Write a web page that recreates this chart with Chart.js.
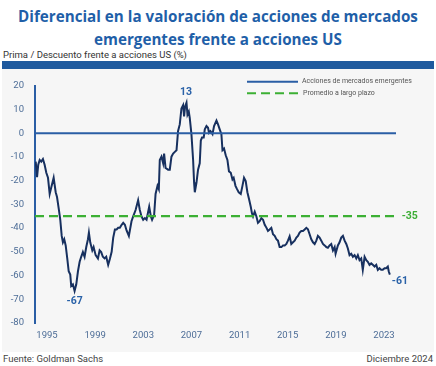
<!DOCTYPE html>
<html>
<head>
<meta charset="utf-8">
<script src="https://cdn.jsdelivr.net/npm/chart.js@4/dist/chart.umd.min.js"></script>
<style>
  html, body { margin: 0; padding: 0; background: #ffffff; }
  body { width: 436px; height: 366px; position: relative; overflow: hidden; font-family: Roboto, "Open Sans", sans-serif; }
  #title { position: absolute; left: 0; top: 5px; width: 436px; text-align: center; font-family: "Open Sans", sans-serif; font-weight: 700; font-size: 15.2px; line-height: 23px; color: #1f5fa8; }
  #subtitle { position: absolute; left: 3px; top: 49px; font-size: 9.5px; color: #333; }
  #bar { position: absolute; left: 2px; top: 61px; width: 432px; height: 8px; background: #1f5a9e; }
  #panel { position: absolute; left: 2px; top: 69px; width: 432px; height: 283px; background: #f6f6f6; }
  #wrap { position: absolute; left: 0; top: 69px; width: 436px; height: 283px; }
  #src { position: absolute; left: 3px; top: 353px; font-size: 9.5px; color: #444; }
  #date { position: absolute; right: 3px; top: 353px; font-size: 9.5px; color: #444; }
</style>
</head>
<body>
<div id="title">Diferencial en la valoración de acciones de mercados<br>emergentes frente a acciones US</div>
<div id="subtitle">Prima / Descuento frente a acciones US (%)</div>
<div id="bar"></div>
<div id="panel"></div>
<div id="wrap"><canvas id="c" width="436" height="283"></canvas></div>
<div id="src">Fuente: Goldman Sachs</div>
<div id="date">Diciembre 2024</div>
<script>
const seriesName = "Acciones de mercados emergentes";
const averageName = "Promedio a largo plazo";
const xTickLabels = [1995, 1999, 2003, 2007, 2011, 2015, 2019, 2023];
const yTickLabels = [20, 10, 0, -10, -20, -30, -40, -50, -60, -70, -80];
const longTermAverage = -35;
const dates = [
1994.06,1994.17,1994.27,1994.39,1994.52,1994.66,1994.80,1994.94,1995.08,1995.22,1995.35,1995.55,1995.72,1995.83,1995.99,
1996.10,1996.22,1996.32,1996.43,1996.55,1996.68,1996.80,1996.93,1997.01,1997.15,1997.29,1997.43,1997.57,1997.71,1997.84,1997.98,
1998.12,1998.26,1998.40,1998.48,1998.59,1998.76,1998.87,1999.04,1999.23,1999.37,1999.50,1999.64,1999.78,1999.92,
2000.08,2000.22,2000.37,2000.50,2000.64,2000.78,2000.91,2001.05,2001.20,2001.33,2001.47,2001.61,2001.80,
2002.02,2002.16,2002.36,2002.57,2002.71,2002.85,2002.99,2003.13,2003.27,2003.49,2003.63,2003.73,2003.90,
2004.02,2004.18,2004.29,2004.37,2004.51,2004.65,2004.73,2004.85,2005.06,2005.20,2005.34,2005.48,2005.62,2005.76,2005.89,
2006.03,2006.17,2006.31,2006.39,2006.47,2006.59,2006.67,2006.78,2006.86,2007.00,2007.14,2007.22,2007.28,2007.42,2007.55,2007.69,2007.78,2007.88,
2008.02,2008.11,2008.25,2008.38,2008.46,2008.58,2008.75,2008.88,2009.08,2009.21,2009.35,2009.49,2009.58,2009.71,2009.85,2009.99,
2010.12,2010.27,2010.41,2010.51,2010.66,2010.79,2010.93,2011.10,2011.24,2011.37,2011.51,2011.65,2011.78,2011.93,
2012.03,2012.12,2012.26,2012.40,2012.53,2012.67,2012.81,2012.95,2013.09,2013.24,2013.36,2013.50,2013.64,2013.78,2013.92,
2014.06,2014.19,2014.33,2014.48,2014.61,2014.75,2014.89,2015.02,2015.16,2015.30,2015.44,2015.58,2015.72,2015.85,2015.99,
2016.13,2016.27,2016.41,2016.55,2016.68,2016.82,2016.96,2017.10,2017.24,2017.38,2017.51,2017.65,2017.79,2017.93,
2018.07,2018.21,2018.34,2018.48,2018.62,2018.76,2018.90,2018.98,2019.17,2019.31,2019.45,2019.59,2019.73,2019.87,
2020.00,2020.14,2020.28,2020.42,2020.56,2020.70,2020.83,2020.97,2021.11,2021.24,2021.39,2021.53,2021.66,2021.80,2021.94,
2022.07,2022.22,2022.36,2022.49,2022.63,2022.77,2022.90,2023.05,2023.18,2023.32,2023.40,2023.49
];
const emValues = [
-12,-18.5,-13.3,-11.3,-12,-10.9,-13.3,-16.7,-18.8,-25.6,-22.9,-18.8,-24.9,-26.9,-32.4,
-36.5,-43.3,-46,-44.7,-47.3,-52.8,-58.2,-59.6,-64.4,-63.7,-66.5,-63.7,-58.2,-54.2,-52.1,-50.1,
-52.1,-48,-44.7,-41.9,-46,-49.4,-48,-51.4,-52.8,-49.4,-50.1,-52.1,-52.8,-52.1,
-55.5,-53,-50,-44,-40.6,-40.6,-39.9,-39.9,-38.6,-37.8,-38.6,-41,-43.3,
-37.1,-35.1,-32.4,-28.3,-32.4,-35.1,-36.5,-35.8,-36.5,-31,-35.1,-36.5,-34.5,
-25.6,-22.2,-23.6,-11.3,-9.9,-12.7,-8.6,-14.7,-15.4,-15.4,-9.9,-8.6,-7.9,-7.2,0.9,
3.7,10.4,11.8,7.1,11.1,12.8,7.8,9.1,6.4,-0.4,-11.3,-20.8,-24.9,-20.8,-15.4,-12.7,-3.1,-1.8,
-1.8,1.6,3,2.3,0.2,0.9,-0.4,3,5.3,3.7,1.6,-0.4,-7.2,-6.5,-9.3,-11.3,
-16.1,-16.7,-19.5,-18.8,-22.2,-23.6,-24.9,-25.6,-22.2,-18.8,-20.2,-24.9,-27.6,-31,
-33.8,-35.1,-33.1,-35.1,-37.8,-37.1,-35.8,-36.5,-38.6,-39.9,-41.2,-40.6,-39.9,-42.6,-43.3,
-44.7,-45.3,-48,-48,-47.3,-47.3,-46.7,-45.3,-43.5,-46.7,-46,-45.3,-44,-43.3,-41.9,
-41.2,-41.2,-40.6,-39.9,-40.5,-42.6,-44.7,-46,-46.7,-45.3,-43.3,-44,-45.3,-46.7,
-47.3,-48,-48.3,-47.3,-46.7,-49.4,-48,-50.8,-47.3,-46,-44,-43.3,-45.3,-46.7,
-48.6,-51.4,-50.8,-52.1,-51.4,-52.8,-51.4,-53.5,-52.8,-57.6,-52.1,-53.5,-54.2,-55.5,-54.9,
-55.5,-56.2,-55.5,-57.6,-56.9,-57.6,-57.6,-56.9,-56.9,-56.2,-58.3,-59.6
];
const annotations = [
  { text: "13", x: 2006.55, y: 13, dx: 0, dy: -10, color: "#2a62a8" },
  { text: "-67", x: 1997.29, y: -67, dx: 0, dy: 9, color: "#2a62a8" },
  { text: "-61", x: 2023.49, y: -61, dx: 10, dy: 3.5, color: "#2a62a8" },
  { text: "-35", x: 2023.9, y: -35, dx: 15, dy: 0, color: "#3cae35" }
];

const X_MIN = 1994, X_MAX = 2024;
const BLUE = "#2a5ea5", NAVY = "#17305f", GREEN = "#3cb034", TICK = "#4d6d97";

const emPoints = dates.map((d, i) => ({ x: d, y: emValues[i] }));

const overlay = {
  id: "overlay",
  afterDatasetsDraw(chart) {
    const ctx = chart.ctx;
    const xs = chart.scales.x, ys = chart.scales.y;
    ctx.save();
    ctx.font = "bold 10.5px Roboto, sans-serif";
    ctx.textAlign = "center";
    ctx.textBaseline = "middle";
    annotations.forEach(a => {
      ctx.fillStyle = a.color;
      const px = xs.getPixelForValue(a.x) + a.dx;
      const py = ys.getPixelForValue(a.y) + a.dy;
      ctx.fillText(a.text, px, py);
    });
    // legend
    const lx0 = 247, lx1 = 298, ly1 = 81.7 - 69, ly2 = 93.3 - 69;
    ctx.lineWidth = 2;
    ctx.strokeStyle = BLUE;
    ctx.setLineDash([]);
    ctx.beginPath(); ctx.moveTo(lx0, ly1); ctx.lineTo(lx1, ly1); ctx.stroke();
    ctx.strokeStyle = GREEN;
    ctx.setLineDash([9, 5]);
    ctx.beginPath(); ctx.moveTo(lx0, ly2); ctx.lineTo(lx1, ly2); ctx.stroke();
    ctx.setLineDash([]);
    ctx.font = "7px Roboto, sans-serif";
    ctx.fillStyle = "#555";
    ctx.textAlign = "left";
    ctx.fillText(seriesName, 302, ly1);
    ctx.fillText(averageName, 303, ly2);
    ctx.restore();
  }
};

new Chart(document.getElementById("c"), {
  type: "line",
  data: {
    datasets: [
      { label: "zero", data: [{ x: X_MIN, y: 0 }, { x: X_MAX, y: 0 }], borderColor: BLUE, borderWidth: 2, pointRadius: 0 },
      { label: averageName, data: [{ x: X_MIN, y: longTermAverage }, { x: 2023.9, y: longTermAverage }], borderColor: GREEN, borderWidth: 2.2, borderDash: [9, 5], pointRadius: 0 },
      { label: seriesName, data: emPoints, borderColor: NAVY, borderWidth: 2, pointRadius: 0, tension: 0 }
    ]
  },
  options: {
    responsive: false,
    animation: false,
    events: [],
    layout: { padding: { top: 9, right: 40, bottom: 0, left: 0 } },
    plugins: { legend: { display: false }, tooltip: { enabled: false } },
    scales: {
      x: {
        type: "linear", min: X_MIN, max: X_MAX,
        grid: { display: false, drawTicks: false },
        border: { display: false },
        afterBuildTicks(s) { s.ticks = xTickLabels.map(v => ({ value: v })); },
        afterFit(s) { s.height = 29; },
        ticks: { padding: 7, color: TICK, font: { size: 9.5, family: "Roboto" }, maxRotation: 0, callback: v => String(v) }
      },
      y: {
        type: "linear", min: -80, max: 20,
        grid: { display: false, drawTicks: false },
        border: { display: true, color: BLUE, width: 2 },
        afterBuildTicks(s) { s.ticks = yTickLabels.map(v => ({ value: v })); },
        afterFit(s) { s.width = 35; },
        ticks: { padding: 11, color: TICK, font: { size: 9.5, family: "Roboto" }, callback: v => String(v) }
      }
    }
  },
  plugins: [overlay]
});
</script>
</body>
</html>
